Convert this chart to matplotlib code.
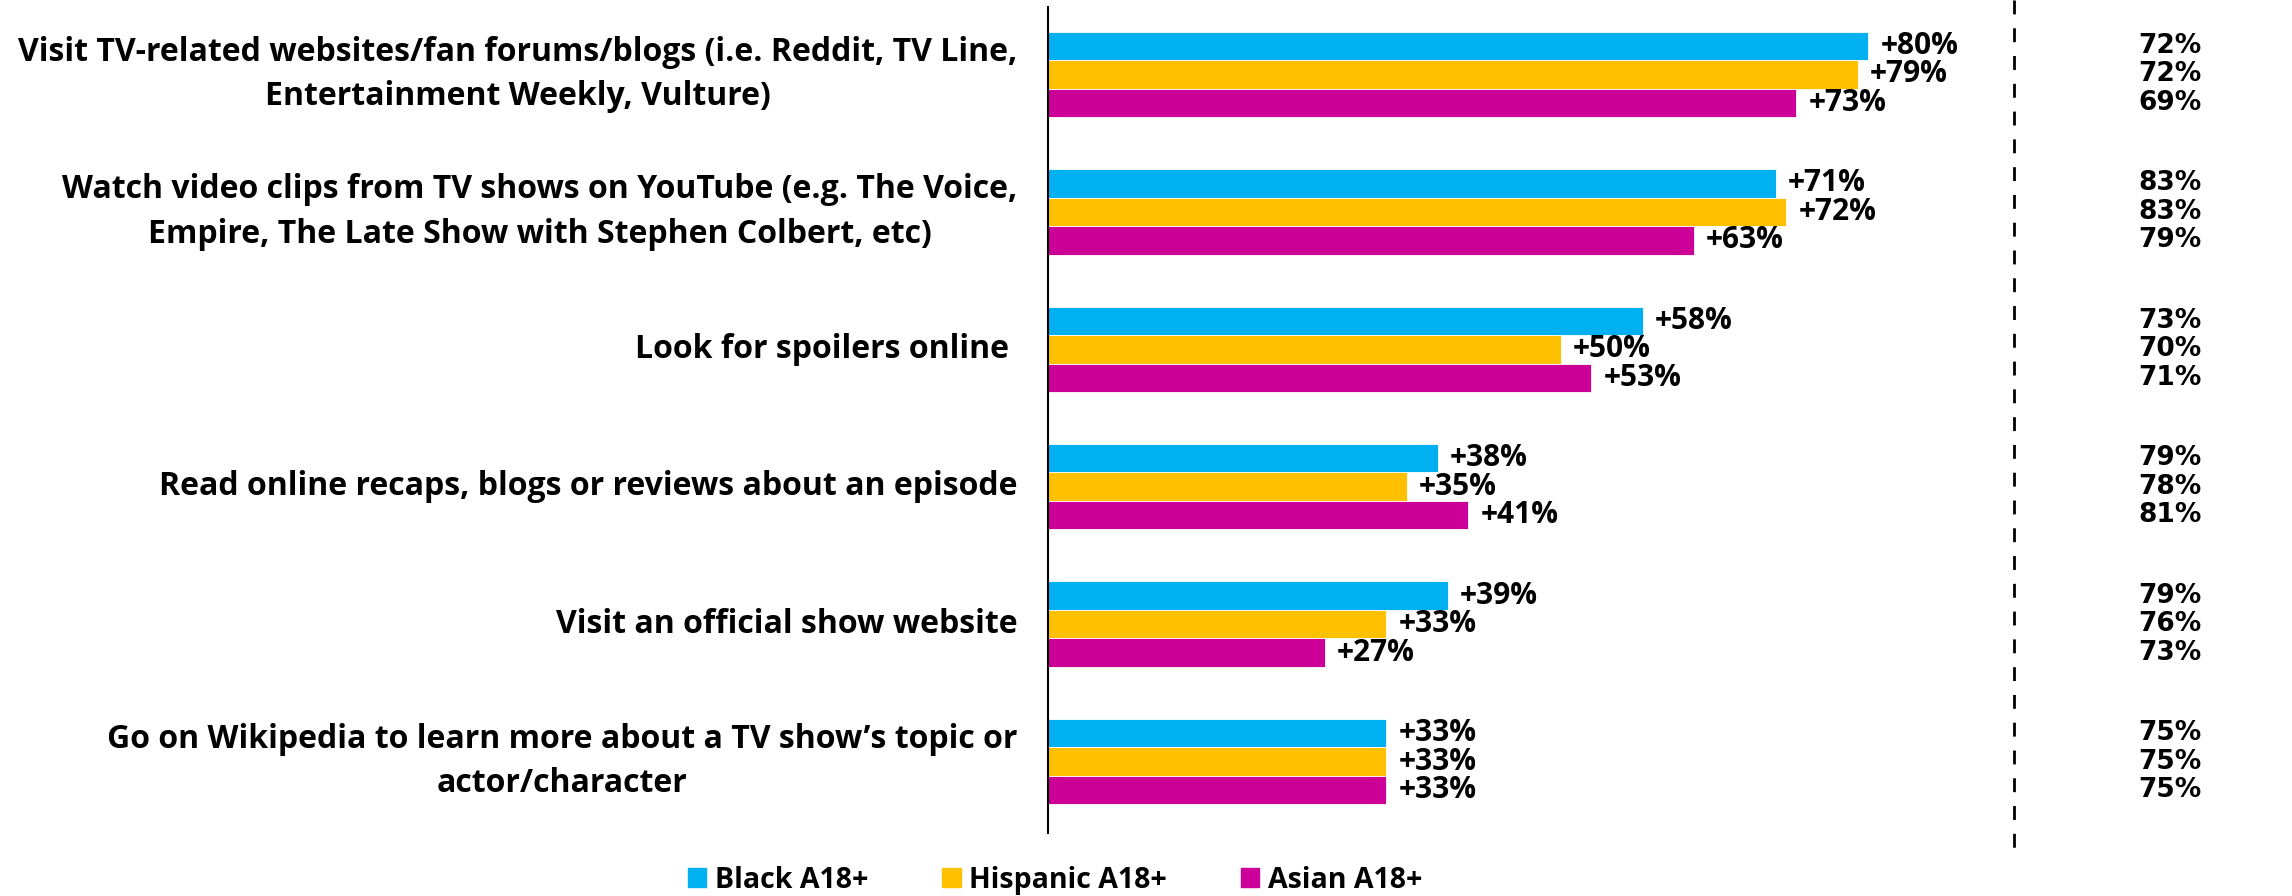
import matplotlib
matplotlib.use("Agg")
import matplotlib.pyplot as plt
from matplotlib.lines import Line2D
from matplotlib.patches import Patch
import numpy as np

categories = [
    "Visit TV-related websites/fan forums/blogs (i.e. Reddit, TV Line,\nEntertainment Weekly, Vulture)",
    "Watch video clips from TV shows on YouTube (e.g. The Voice,\nEmpire, The Late Show with Stephen Colbert, etc)",
    "Look for spoilers online ",
    "Read online recaps, blogs or reviews about an episode",
    "Visit an official show website",
    "Go on Wikipedia to learn more about a TV show\u2019s topic or\nactor/character",
]
series_names = ["Black A18+", "Hispanic A18+", "Asian A18+"]
black = [80, 71, 58, 38, 39, 33]
hispanic = [79, 72, 50, 35, 33, 33]
asian = [73, 63, 53, 41, 27, 33]
index_black = [72, 83, 73, 79, 79, 75]
index_hispanic = [72, 83, 70, 78, 76, 75]
index_asian = [69, 79, 71, 81, 73, 75]

colors = ["#00B0F0", "#FFC000", "#CC0099"]
W, H = 2292, 896
fig = plt.figure(figsize=(W / 100, H / 100), dpi=100)
ax_left = 1048 / W
ax = fig.add_axes([ax_left, 63 / H, 1 - ax_left, 826 / H])

FONT = "Open Sans"
bh = 0.207
y = np.arange(len(categories))
series = [black, hispanic, asian]
idx = [index_black, index_hispanic, index_asian]
for k, (vals, c) in enumerate(zip(series, colors)):
    yy = y + (k - 1) * bh
    ax.barh(yy, vals, height=bh, color=c, edgecolor="white", linewidth=0.6)
    for yi, v in zip(yy, vals):
        ax.text(v + 1.2, yi, f"+{v}%", va="center", ha="left", fontsize=21.5,
                fontweight="bold", family=FONT, color="black")

xmax = (W - 1048) / 10.25
ax.set_xlim(0, xmax)
ax.set_ylim(len(categories) - 1 + 0.52, -0.491)

# right-hand index column
xr = (2202 - 1048) / 10.25
for k in range(3):
    for yi, v in zip(y + (k - 1) * bh, idx[k]):
        ax.text(xr, yi, f"{v}%", va="center", ha="right", fontsize=19,
                fontweight="bold", family="DejaVu Sans", color="black")

for s in ["top", "right", "bottom"]:
    ax.spines[s].set_visible(False)
ax.spines["left"].set_linewidth(1.5)
ax.set_xticks([])
ax.set_yticks([])

# category labels
for yi, lab in zip(y, categories):
    ax.text(-3.0, yi, lab, ha="right", va="center", multialignment="center",
            fontsize=23, fontweight="bold", family=FONT, linespacing=1.47,
            transform=ax.transData, clip_on=False)

# dashed separator
fig.add_artist(Line2D([2014 / W, 2014 / W], [1.0, 1 - 848 / H],
                      transform=fig.transFigure, color="black", lw=2,
                      linestyle=(0, (5, 5))))

handles = [Patch(facecolor=c, edgecolor=c) for c in colors]
fig.legend(handles, series_names, loc="center", bbox_to_anchor=(1055 / W, 1 - 880 / H),
           ncol=3, frameon=False, handlelength=0.65, handleheight=0.65,
           handletextpad=0.3, columnspacing=2.6,
           prop={"family": FONT, "weight": "bold", "size": 20.5})

fig.savefig("out.png", dpi=100)
